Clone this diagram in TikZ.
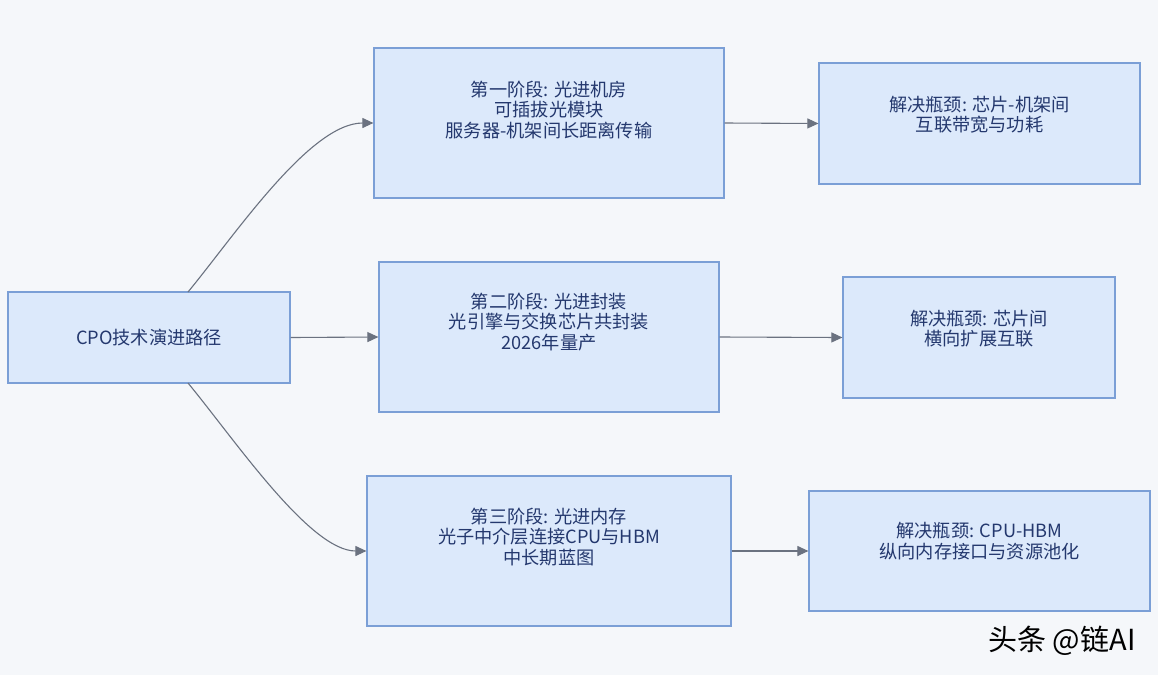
\documentclass[tikz,border=0pt]{standalone}
\usepackage{fontspec}
\setmainfont{Noto Sans CJK SC}
\usetikzlibrary{arrows.meta}
\definecolor{bg}{HTML}{F5F7FA}
\definecolor{boxfill}{HTML}{DCE9FB}
\definecolor{boxline}{HTML}{7B9FD6}
\definecolor{txtc}{HTML}{24386E}
\definecolor{arr}{HTML}{6B7280}
\tikzset{
  box/.style={draw=boxline, fill=boxfill, line width=1.2pt, inner sep=0pt},
  txt/.style={text=txtc, align=center, font=\fontsize{18.2}{20.5}\selectfont},
  conn/.style={draw=arr, line width=1.1pt, -{Triangle[length=11pt,width=10pt]}},
}
\begin{document}
\begin{tikzpicture}[x=1pt,y=-1pt]
\fill[bg] (0,0) rectangle (1158,675);
\useasboundingbox (0,0) rectangle (1158,675);
% boxes
\node[box, minimum width=282pt, minimum height=91pt] (root) at (149,337.5) {};
\node[box, minimum width=350pt, minimum height=150pt] (s1) at (549,123) {};
\node[box, minimum width=340pt, minimum height=150pt] (s2) at (549,337) {};
\node[box, minimum width=364pt, minimum height=150pt] (s3) at (549,551) {};
\node[box, minimum width=321pt, minimum height=121pt] (r1) at (979.5,123.5) {};
\node[box, minimum width=272pt, minimum height=121pt] (r2) at (979,337.5) {};
\node[box, minimum width=341pt, minimum height=120pt] (r3) at (979.5,551) {};
% texts
\node[txt] (troot) at (root.center) {CPO技术演进路径};
\node[txt] (ts1) at ([yshift=13pt]s1.center) {第一阶段: 光进机房\\可插拔光模块\\服务器-机架间长距离传输};
\node[txt] (ts2) at ([yshift=15pt]s2.center) {第二阶段: 光进封装\\光引擎与交换芯片共封装\\2026年量产};
\node[txt] (ts3) at ([yshift=14pt]s3.center) {第三阶段: 光进内存\\光子中介层连接CPU与HBM\\中长期蓝图};
\node[txt] (tr1) at ([yshift=9pt]r1.center) {解决瓶颈: 芯片-机架间\\互联带宽与功耗};
\node[txt] (tr2) at ([yshift=9pt]r2.center) {解决瓶颈: 芯片间\\横向扩展互联};
\node[txt] (tr3) at ([yshift=10pt]r3.center) {解决瓶颈: CPU-HBM\\纵向内存接口与资源池化};
% connectors
\coordinate (rtop) at (188,292);
\coordinate (rbot) at (188,383);
\draw[conn] (rtop) .. controls (235,235) and (310,123) .. (s1.west);
\draw[conn] (root.east) -- (s2.west);
\draw[conn] (rbot) .. controls (235,440) and (310,551) .. (s3.west);
\draw[conn] (s1.east) -- (r1.west);
\draw[conn] (s2.east) -- (r2.west);
\draw[conn] (s3.east) -- (r3.west);
% watermark
\node[text=black, font=\fontsize{29}{32}\selectfont, anchor=center] (wm) at (1062,641) {头条 @链AI};
\end{tikzpicture}
\end{document}
